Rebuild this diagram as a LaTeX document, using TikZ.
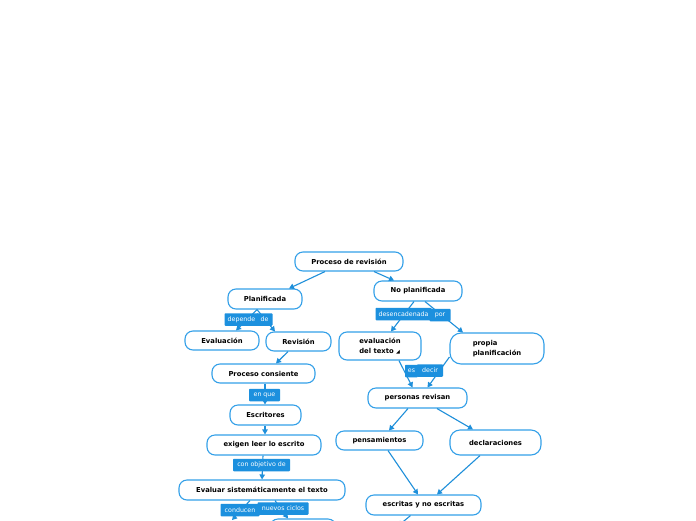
\documentclass[tikz,border=0pt]{standalone}
\usepackage{fontspec}
\setmainfont{DejaVu Sans}
\usetikzlibrary{arrows.meta}
\definecolor{nb}{RGB}{52,160,232}
\definecolor{ln}{RGB}{30,143,218}
\definecolor{lf}{RGB}{28,144,222}
\tikzset{
 box/.style={draw=nb, line width=1.1pt, fill=white, rounded corners=8pt, inner sep=0pt, font=\fontsize{6.8}{9.5}\selectfont\bfseries, text=black},
 conn/.style={draw=ln, line width=1.1pt, -{Triangle[length=5pt,width=5.5pt]}},
 tag/.style={fill=lf, text=white, inner xsep=0pt, inner ysep=0pt, minimum height=12.5pt, rounded corners=0.8pt, font=\fontsize{6.3}{7}\selectfont}
}
\begin{document}
\begin{tikzpicture}[x=1pt,y=-1pt]
\path[use as bounding box, clip] (0,0) rectangle (696,520);
\fill[white] (0,0) rectangle (696,520);
% nodes
\node[box, minimum width=108pt, minimum height=19pt] (prc) at (349,261.5) {Proceso de revisión};
\node[box, minimum width=88pt, minimum height=20pt] (nopl) at (418,291) {No planificada};
\node[box, minimum width=74pt, minimum height=20pt] (pl) at (265,299) {Planificada};
\node[box, minimum width=74pt, minimum height=19pt] (eval) at (222,340.5) {Evaluación};
\node[box, minimum width=65pt, minimum height=19pt] (rev) at (298.5,341.5) {Revisión};
\node[box, minimum width=82pt, minimum height=28pt, align=left] (evt) at (380,346) {evaluación\\del texto {\fontsize{5}{5}\selectfont ◢}};
\node[box, minimum width=94pt, minimum height=31pt, rounded corners=11pt, align=left] (pp) at (497,348.5) {propia\\planificación};
\node[box, minimum width=103pt, minimum height=19pt] (pc) at (263.5,373.5) {Proceso consiente};
\node[box, minimum width=99pt, minimum height=20pt] (pr) at (417.5,398) {personas revisan};
\node[box, minimum width=71pt, minimum height=20pt] (esc) at (265.5,415) {Escritores};
\node[box, minimum width=87pt, minimum height=19pt] (pen) at (379.5,440.5) {pensamientos};
\node[box, minimum width=91pt, minimum height=25pt, rounded corners=10pt] (dec) at (495.5,442.5) {declaraciones};
\node[box, minimum width=114pt, minimum height=20pt] (exi) at (264,445) {exigen leer lo escrito};
\node[box, minimum width=166pt, minimum height=20pt] (eva) at (262,490) {Evaluar sistemáticamente el texto};
\node[box, minimum width=115pt, minimum height=20pt] (eyn) at (423.5,505) {escritas y no escritas};
\node[box, minimum width=66pt, minimum height=20pt] (bot) at (303,529) {};
\coordinate (cl) at (232,520);
\coordinate (cd) at (398,526);
% connectors
\draw[conn] ([xshift=-24pt]prc.south) -- ([xshift=24pt]pl.north);
\draw[conn] ([xshift=25pt]prc.south) -- ([xshift=-24pt]nopl.north);
\draw[conn] ([xshift=-8pt]pl.south) -- ([xshift=14pt]eval.north);
\draw[conn] ([xshift=-8pt]pl.south) -- ([xshift=-23.5pt]rev.north);
\draw[conn] ([xshift=-10.5pt]rev.south) -- ([xshift=12.5pt]pc.north);
\draw[conn] ([xshift=1.5pt]pc.south) -- ([xshift=-0.5pt]esc.north);
\draw[conn] ([xshift=-0.5pt]esc.south) -- ([xshift=1pt]exi.north);
\draw[conn] ([xshift=-1pt]exi.south) -- (eva.north);
\draw[conn] ([xshift=-12pt]eva.south) -- (cl);
\draw[conn] ([xshift=13pt]eva.south) -- ([xshift=-15pt]bot.north);
\draw[conn] ([xshift=-4pt]nopl.south) -- ([xshift=11pt]evt.north);
\draw[conn] ([xshift=7pt]nopl.south) -- ([xshift=-34pt]pp.north);
\draw[conn] ([xshift=19pt]evt.south) -- ([xshift=-5pt]pr.north);
\draw[conn] ([yshift=-8.5pt]pp.west) -- ([xshift=10pt]pr.north);
\draw[conn] ([xshift=-9.5pt]pr.south) -- ([xshift=9.5pt]pen.north);
\draw[conn] ([xshift=19.5pt]pr.south) -- ([xshift=-22.5pt]dec.north);
\draw[conn] ([xshift=8.5pt]pen.south) -- ([xshift=-5.5pt]eyn.north);
\draw[conn] ([xshift=-15.5pt]dec.south) -- ([xshift=13.5pt]eyn.north);
\draw[conn] ([xshift=-13pt]eyn.south) -- (cd);
% labels
\node[tag, minimum width=34pt] (t1) at (241.5,319.5) {depende};
\node[tag, minimum width=16pt] (t2) at (264.5,319.5) {de};
\node[tag, minimum width=56pt] (t3) at (403.5,314) {desencadenada};
\node[tag, minimum width=21pt] (t4) at (440,315) {por};
\node[tag, minimum width=13pt] (t5) at (411.5,371) {es};
\node[tag, minimum width=26pt] (t6) at (430,370.5) {decir};
\node[tag, minimum width=31pt] (t7) at (264.5,395) {en que};
\node[tag, minimum width=57pt] (t8) at (261.5,465) {con objetivo de};
\node[tag, minimum width=39pt] (t9) at (240,510) {conducen};
\node[tag, minimum width=51pt] (t10) at (283,508.5) {nuevos ciclos};
\end{tikzpicture}
\end{document}
